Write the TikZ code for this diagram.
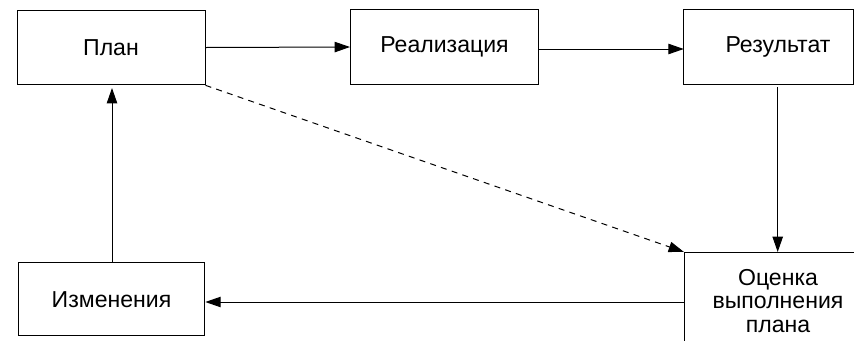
\documentclass[tikz,border=0pt]{standalone}
\usepackage{fontspec}
\setmainfont{Liberation Sans}
\usetikzlibrary{arrows.meta}
\begin{document}
\begin{tikzpicture}[x=0.75pt,y=-0.75pt,
  box/.style={draw, line width=0.75pt, minimum width=141pt, minimum height=56pt, inner sep=0pt, align=center, font=\fontsize{17.3pt}{17.8pt}\selectfont},
  plain/.style={inner sep=0pt, align=center, font=\fontsize{17.3pt}{17.8pt}\selectfont},
  conn/.style={line width=0.75pt, -{Triangle[length=11.5pt,width=7.8pt]}},
  dconn/.style={conn, dash pattern=on 4.5pt off 4pt}]
\useasboundingbox (0,0) rectangle (854,340);
\node[box] (plan) at (111,47.5) {План};
\node[box] (real) at (444.5,47) {Реализация};
\node[plain, minimum width=141pt, minimum height=56pt] (res) at (778,47) {Результат};
\draw[line width=0.75pt] (res.north west) rectangle (853,84);
\node[box, minimum width=140pt, minimum height=55pt] (chg) at (111.5,299.3) {Изменения};
\node[plain] (est) at (778,301) {Оценка\\выполнения\\плана};
\coordinate (estTL) at (684,252);
\coordinate (estL) at (684,302);
\draw[line width=0.75pt] (854,252) -- (estTL) -- (684,341);
\draw[conn] (plan.east) -- (real.west);
\draw[conn] (real.east |- 0,49) -- (res.west |- 0,49);
\draw[conn] (777.7,87) -- (777.7,252);
\draw[dconn] (plan.south east) -- (estTL);
\draw[conn] (estL) -- (chg.east |- estL);
\draw[conn] (chg.north -| 112,0) -- (112,88);
\end{tikzpicture}
\end{document}
